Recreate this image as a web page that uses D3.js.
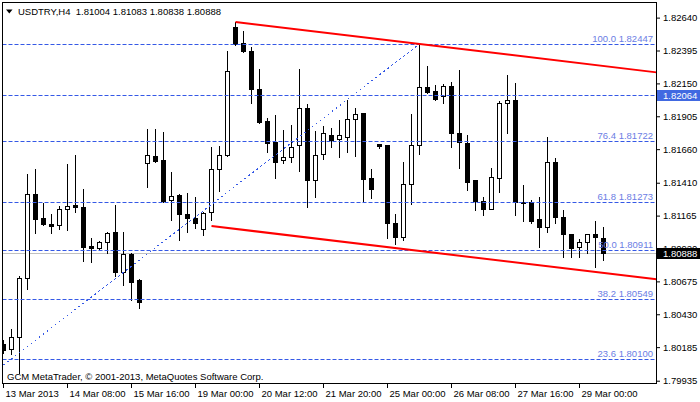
<!DOCTYPE html>
<html><head><meta charset="utf-8">
<script src="https://cdn.jsdelivr.net/npm/d3@7"></script>
<style>
body{margin:0;background:#fff;}
svg{display:block;font-family:"Liberation Sans",Arial,sans-serif;}
</style></head><body>
<svg id="c" width="700" height="402"></svg>
<script>
const headerText = "USDTRY,H4  1.81004 1.81083 1.80838 1.80888";
const copyright = "GCM MetaTrader, \u00A9 2001-2013, MetaQuotes Software Corp.";
const opens = [1.80212,1.80175,1.80264,1.80704,1.81330,1.81151,1.81106,1.81099,1.81218,1.81248,
1.81233,1.80942,1.80927,1.80972,1.81047,1.80749,1.80883,1.80689,1.81561,1.81613,
1.81583,1.81285,1.81322,1.81181,1.81151,1.81069,1.81196,1.81516,1.81620,1.82574,
1.82455,1.82395,1.82112,1.81874,1.81717,1.81583,1.81605,1.81695,1.81970,1.81434,
1.81628,1.81769,1.81739,1.81754,1.81888,1.81933,1.81449,1.81702,1.81695,1.81114,
1.81009,1.81404,1.81695,1.82127,1.82097,1.82060,1.82134,1.81784,1.81710,1.81434,
1.81278,1.81218,1.81449,1.82008,1.82030,1.81270,1.81270,1.81143,1.81084,1.81568,
1.81158,1.81032,1.80935,1.80972,1.81032,1.81004];
const highs = [1.80242,1.80324,1.80719,1.81479,1.81516,1.81263,1.81181,1.81240,1.81553,1.81620,
1.81367,1.81002,1.80980,1.81047,1.81248,1.81047,1.80890,1.80696,1.81814,1.81814,
1.81792,1.81494,1.81330,1.81337,1.81307,1.81196,1.81680,1.81687,1.82395,1.82611,
1.82544,1.82425,1.82261,1.81896,1.81918,1.81807,1.81844,1.82261,1.82000,1.81799,
1.81836,1.81821,1.81881,1.82030,1.81970,1.81933,1.81516,1.81702,1.81695,1.81181,
1.81568,1.81926,1.82447,1.82283,1.82142,1.82149,1.82164,1.82254,1.81769,1.81434,
1.81307,1.81523,1.82023,1.82216,1.82157,1.81397,1.81285,1.81307,1.81754,1.81598,
1.81211,1.81032,1.80994,1.81032,1.81129,1.81083];
const lows = [1.80145,1.80138,1.79996,1.80622,1.81039,1.81099,1.81039,1.81069,1.81062,1.81196,
1.80831,1.80823,1.80920,1.80890,1.80719,1.80652,1.80540,1.80480,1.81382,1.81568,
1.81270,1.81136,1.80987,1.81047,1.81076,1.81024,1.81136,1.81352,1.81613,1.82440,
1.82388,1.82008,1.81859,1.81643,1.81449,1.81561,1.81568,1.81501,1.81233,1.81307,
1.81590,1.81680,1.81605,1.81643,1.81613,1.81278,1.81300,1.81672,1.81002,1.80957,
1.80987,1.81255,1.81628,1.82082,1.82030,1.82008,1.81680,1.81523,1.81360,1.81211,
1.81173,1.81218,1.81345,1.81784,1.81173,1.81129,1.81114,1.80935,1.81047,1.81114,
1.80860,1.80860,1.80860,1.80890,1.80786,1.80838];
const closes = [1.80168,1.80264,1.80704,1.81330,1.81143,1.81106,1.81091,1.81218,1.81240,1.81233,
1.80935,1.80931,1.80972,1.81039,1.80749,1.80883,1.80674,1.80525,1.81620,1.81576,
1.81278,1.81315,1.81181,1.81151,1.81114,1.81188,1.81516,1.81620,1.82246,1.82447,
1.82395,1.82112,1.81866,1.81710,1.81568,1.81605,1.81680,1.81970,1.81434,1.81620,
1.81784,1.81732,1.81769,1.81888,1.81926,1.81441,1.81367,1.81687,1.81114,1.81009,
1.81404,1.81695,1.82127,1.82090,1.82037,1.82134,1.81784,1.81717,1.81419,1.81278,
1.81218,1.81456,1.82008,1.82030,1.81270,1.81266,1.81129,1.81084,1.81568,1.81158,
1.81032,1.80927,1.80972,1.81032,1.81009,1.80888];
const xTickIndex = [0,8,16,24,32,40,48,56,64,72];
const xTickLabels = ["13 Mar 2013","14 Mar 08:00","15 Mar 16:00","19 Mar 00:00","20 Mar 12:00",
  "21 Mar 20:00","25 Mar 00:00","26 Mar 08:00","27 Mar 16:00","29 Mar 00:00"];
const yTickValues = [1.82640,1.82395,1.82150,1.81905,1.81660,1.81410,1.81165,1.80920,1.80675,1.80430,1.80185,1.79935];
const fibRatios = ["100.0","76.4","61.8","50.0","38.2","23.6"];
const fibLevels = [1.82447,1.81722,1.81273,1.80911,1.80549,1.80100];
const fibAnchorIdx = [-14.9, 52];
const fibAnchorPrice = [1.79372, 1.82447];
const upperIdx = [29, 52];
const upperPrice = [1.82611, 1.82447];
const lowerIdx = [26, 70];
const lowerPrice = [1.81091, 1.80777];
const hLinePrice = 1.82064;
const lastPrice = 1.80888;

const svg = d3.select("#c");
const L = 2.5, T = 2.5, R = 656.5, B = 383.5;
const x = d3.scaleLinear().domain([0, 81.375]).range([3.5, 654.5]);
const y = d3.scaleLinear().domain([1.799142, 1.8275265]).range([384, 3]);
const maxIdx = x.invert(R);

svg.append("rect").attr("width",700).attr("height",402).attr("fill","#fff");
svg.append("defs").append("clipPath").attr("id","pc").append("rect")
  .attr("x",L).attr("y",T).attr("width",R-L).attr("height",B-T);
const plot = svg.append("g").attr("clip-path","url(#pc)");

const blue = "#3559e6";
const snap = v => Math.round(v) + 0.5;

// last price (grey)
plot.append("line").attr("x1",L).attr("x2",R)
  .attr("y1",snap(y(lastPrice))).attr("y2",snap(y(lastPrice)))
  .attr("stroke","#c0c0c0").attr("stroke-width",1);

// candles
const n = opens.length;
const cg = plot.append("g");
for (let i = 0; i < n; i++) {
  const cx = x(i);
  const o = opens[i], c = closes[i], h = highs[i], l = lows[i];
  const yt = Math.round(y(Math.max(o,c))), yb = Math.round(y(Math.min(o,c)));
  cg.append("line").attr("x1",cx).attr("x2",cx)
    .attr("y1",Math.round(y(h))).attr("y2",Math.round(y(l))+1)
    .attr("stroke","#000").attr("stroke-width",1);
  if (yb - yt < 1) {
    cg.append("line").attr("x1",cx-2.5).attr("x2",cx+2.5)
      .attr("y1",yt+0.5).attr("y2",yt+0.5).attr("stroke","#000");
  } else {
    cg.append("rect").attr("x",cx-2).attr("y",yt+0.5)
      .attr("width",4).attr("height",yb-yt)
      .attr("fill", c >= o ? "#fff" : "#000").attr("stroke","#000").attr("stroke-width",1);
  }
}

// fib level lines
fibLevels.forEach((p,k) => {
  const yy = snap(y(p));
  plot.append("line").attr("x1",L).attr("x2",R).attr("y1",yy).attr("y2",yy)
    .attr("stroke",blue).attr("stroke-width",1).attr("stroke-dasharray","4,2");
  svg.append("text").attr("x",653).attr("y",yy-3).attr("text-anchor","end")
    .attr("font-size","9.5px").attr("fill","#6b7de4")
    .text(fibRatios[k] + " " + p.toFixed(5));
});
// horizontal line
{
  const yy = snap(y(hLinePrice));
  plot.append("line").attr("x1",L).attr("x2",R).attr("y1",yy).attr("y2",yy)
    .attr("stroke",blue).attr("stroke-width",1).attr("stroke-dasharray","4,2");
}
// fib diagonal
plot.append("line")
  .attr("x1",x(fibAnchorIdx[0])).attr("y1",y(fibAnchorPrice[0]))
  .attr("x2",x(fibAnchorIdx[1])).attr("y2",y(fibAnchorPrice[1]))
  .attr("stroke",blue).attr("stroke-width",1).attr("stroke-dasharray","2,3")
  .attr("shape-rendering","crispEdges");

// red channel rays
function ray(idx, pr) {
  const slope = (pr[1]-pr[0])/(idx[1]-idx[0]);
  const pEnd = pr[0] + slope*(maxIdx-idx[0]);
  plot.append("line").attr("x1",x(idx[0])).attr("y1",y(pr[0]))
    .attr("x2",R).attr("y2",y(pEnd))
    .attr("stroke","#ff0000").attr("stroke-width",2);
}
ray(upperIdx, upperPrice);
ray(lowerIdx, lowerPrice);

// copyright & header
svg.append("text").attr("x",7).attr("y",380).attr("font-size","9.5px").attr("fill","#000").text(copyright);
svg.append("path").attr("d","M6,9.5 L12.5,9.5 L9.25,13.5 Z").attr("fill","#000");
svg.append("text").attr("x",18).attr("y",14.5).attr("font-size","9.5px").attr("fill","#000")
  .attr("xml:space","preserve").style("white-space","pre").text(headerText);

// frame
svg.append("rect").attr("x",L).attr("y",T).attr("width",R-L).attr("height",B-T)
  .attr("fill","none").attr("stroke","#000").attr("stroke-width",1);

// bottom axis
const gx = svg.append("g").attr("transform","translate(0,384)")
  .call(d3.axisBottom(x).tickValues(xTickIndex).tickFormat((d,i)=>xTickLabels[i])
    .tickSize(4).tickSizeOuter(0).offset(0));
gx.select(".domain").remove();
gx.selectAll("line").attr("stroke","#000");
gx.selectAll("text").attr("text-anchor","start").attr("x",2).attr("y",13).attr("dy",0)
  .attr("font-size","9.5px").attr("fill","#000").attr("font-family","Liberation Sans, Arial, sans-serif");

// right axis
const gy = svg.append("g").attr("transform","translate(656,0)")
  .call(d3.axisRight(y).tickValues(yTickValues).tickFormat(d3.format(".5f"))
    .tickSize(4).tickSizeOuter(0).offset(0));
gy.select(".domain").remove();
gy.selectAll("line").attr("stroke","#000");
gy.selectAll("text").attr("x",7).attr("font-size","9.5px").attr("fill","#000")
  .attr("font-family","Liberation Sans, Arial, sans-serif");

// price boxes
function priceBox(p, fill) {
  const yy = y(p);
  svg.append("rect").attr("x",657).attr("y",Math.round(yy)-5).attr("width",43).attr("height",11).attr("fill",fill);
  svg.append("text").attr("x",663).attr("y",yy).attr("dy","0.35em").attr("font-size","9.5px")
    .attr("fill","#fff").text(p.toFixed(5));
}
priceBox(hLinePrice, "#4169e1");
priceBox(lastPrice, "#000");
</script>
</body></html>
